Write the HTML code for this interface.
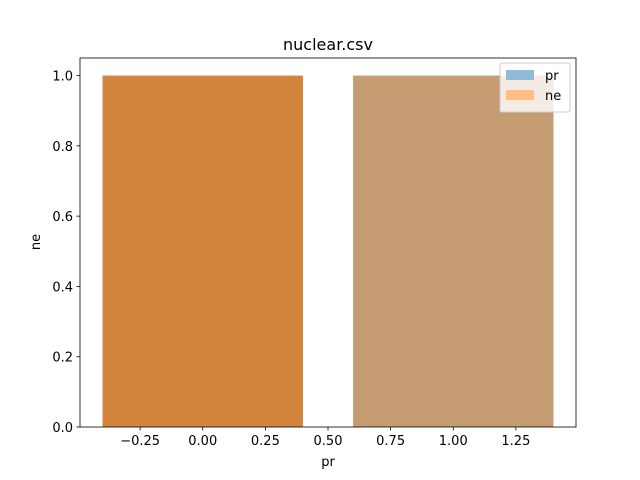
<!DOCTYPE html>
<html><head><meta charset="utf-8"><style>body{margin:0;background:#fff}svg{display:block;font-family:"DejaVu Sans","Liberation Sans",sans-serif}</style></head>
<body>
<svg id="chart" width="640" height="480"></svg>
<script>
const categories = [0, 1];
const prValues = [1, 1];
const neValues = [1, 1];
const barColors = ["#d4843c", "#c69d73"];
const xTicks = [-0.25, 0, 0.25, 0.5, 0.75, 1, 1.25];
const xTickLabels = ["\u22120.25", "0.00", "0.25", "0.50", "0.75", "1.00", "1.25"];
const yTicks = [0, 0.2, 0.4, 0.6, 0.8, 1.0];
const yTickLabels = ["0.0", "0.2", "0.4", "0.6", "0.8", "1.0"];

const NS = "http://www.w3.org/2000/svg";
const svg = document.getElementById("chart");
const L = 80, R = 576, T = 58, B = 427;
const xmin = -0.49, xmax = 1.49, ymax = 1.05;
const xs = v => L + (v - xmin) / (xmax - xmin) * (R - L);
const ys = v => B - v / ymax * (B - T);
function mk(tag, attrs, text) {
  const e = document.createElementNS(NS, tag);
  for (const k in attrs) e.setAttribute(k, attrs[k]);
  if (text !== undefined) e.textContent = text;
  svg.appendChild(e);
  return e;
}
categories.forEach((c, i) => {
  const h = Math.max(prValues[i], neValues[i]);
  const b = mk("rect", {x: xs(c - 0.4), y: ys(h), width: xs(c + 0.4) - xs(c - 0.4), height: ys(0) - ys(h), fill: barColors[i]});
  
  
});
const frame = mk("rect", {x: L, y: T, width: R - L, height: B - T, fill: "none", stroke: "#000", "stroke-width": 0.8});


xTicks.forEach((t, i) => {
  mk("line", {x1: xs(t), x2: xs(t), y1: B, y2: B + 3.5, stroke: "#000", "stroke-width": 0.8});
  const tl = mk("text", {x: xs(t), y: B + 18, "font-size": 13, "text-anchor": "middle"}, xTickLabels[i]);
  
  
});
yTicks.forEach((t, i) => {
  mk("line", {x1: L - 3.5, x2: L, y1: ys(t), y2: ys(t), stroke: "#000", "stroke-width": 0.8});
  const tl = mk("text", {x: L - 7, y: ys(t) + 5, "font-size": 13, "text-anchor": "end"}, yTickLabels[i]);
  
  
});
const title = mk("text", {x: 328, y: 50, "font-size": 16, "text-anchor": "middle"}, "nuclear.csv");


const xt = mk("text", {x: 328, y: 466, "font-size": 13, "text-anchor": "middle"}, "pr");


const yt = mk("text", {x: 40, y: 242, "font-size": 13, "text-anchor": "middle", transform: "rotate(-90 40 242)"}, "ne");


const lg = mk("rect", {x: 500, y: 63, width: 70, height: 49, fill: "#fff", "fill-opacity": 0.8, stroke: "#ccc", rx: 2});


[["pr", "#8fbbd9"], ["ne", "#ffbf86"]].forEach((e, i) => {
  mk("rect", {x: 506, y: 70 + i * 20, width: 28, height: 10, fill: e[1]});
  const t = mk("text", {x: 545, y: 80 + i * 20, "font-size": 13}, e[0]);
  
  
});
</script>
</body></html>
